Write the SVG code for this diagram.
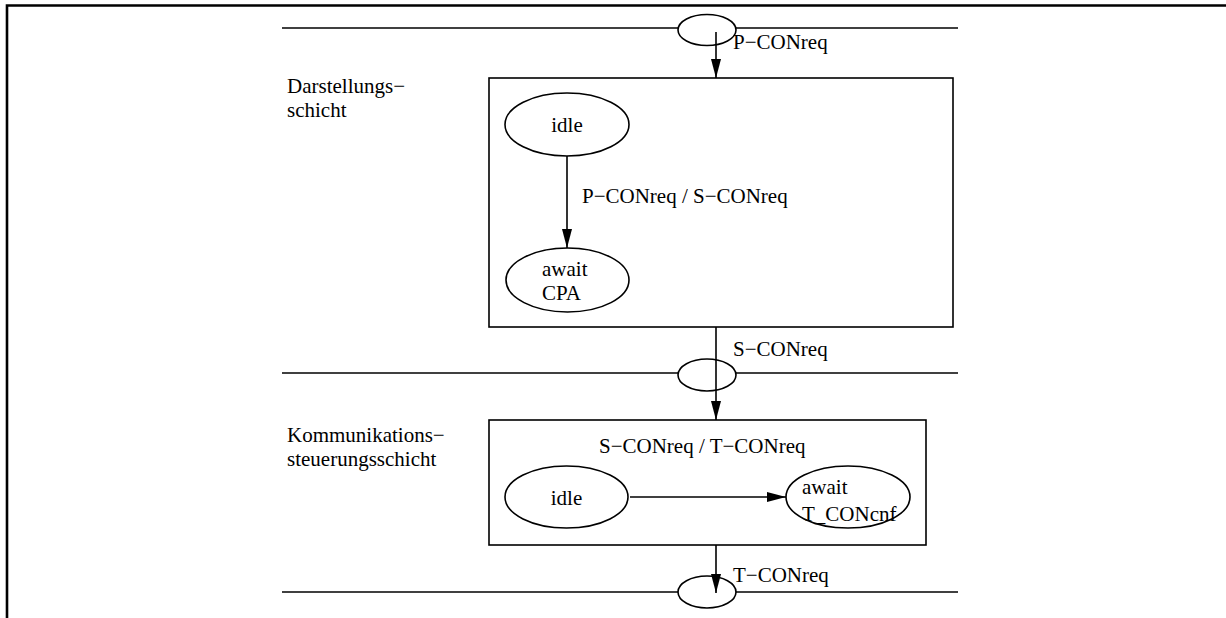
<svg xmlns="http://www.w3.org/2000/svg" width="1226" height="618" viewBox="0 0 1226 618">
  <style>
    .t { font-family: "Liberation Serif", "Times New Roman", "DejaVu Serif", serif; font-size: 21px; fill: #000; }
    .ln { stroke: #000; stroke-width: 1.6; fill: none; }
    .frame { stroke: #000; stroke-width: 2.6; fill: none; }
    .box { stroke: #000; stroke-width: 1.6; fill: #fff; }
    .st { stroke: #000; stroke-width: 1.6; fill: #fff; }
    .sap { stroke: #000; stroke-width: 1.6; fill: #fff; }
  </style>
  <defs>
    <marker id="ah" viewBox="0 0 19 10" refX="19" refY="5" markerWidth="19" markerHeight="10" markerUnits="userSpaceOnUse" orient="auto">
      <path d="M0,0 L19,5 L0,10 z" fill="#000"/>
    </marker>
  </defs>

  <rect width="1226" height="618" fill="#fff"/>

  <!-- page frame -->
  <path class="frame" d="M7,618 V5.5 H1226"/>

  <!-- layer boundaries with service access points -->
  <g id="layer-lines">
    <line class="ln" x1="282" y1="28" x2="958" y2="28"/>
    <line class="ln" x1="282" y1="373" x2="958" y2="373"/>
    <line class="ln" x1="282" y1="592" x2="958" y2="592"/>
  </g>
  <g id="sap-top"><ellipse class="sap" cx="707" cy="30" rx="29" ry="15.5"/></g>
  <g id="sap-mid"><ellipse class="sap" cx="707" cy="375" rx="29" ry="16"/></g>
  <g id="sap-bottom"><ellipse class="sap" cx="707" cy="592" rx="29" ry="16"/></g>

  <!-- layer names -->
  <g id="label-darstellung">
    <text class="t" x="287" y="93">Darstellungs−</text>
    <text class="t" x="287" y="117">schicht</text>
  </g>
  <g id="label-kommunikation">
    <text class="t" x="287" y="442">Kommunikations−</text>
    <text class="t" x="287" y="466">steuerungsschicht</text>
  </g>

  <!-- presentation layer state machine -->
  <g id="box-darstellung"><rect class="box" x="489" y="78" width="464" height="249"/></g>
  <g id="state-idle-1">
    <ellipse class="st" cx="567" cy="124.5" rx="62" ry="31.5"/>
    <text class="t" x="567" y="132" text-anchor="middle">idle</text>
  </g>
  <g id="state-await-cpa">
    <ellipse class="st" cx="567.5" cy="280" rx="61.5" ry="32"/>
    <text class="t" x="542" y="276">await</text>
    <text class="t" x="542" y="300">CPA</text>
  </g>

  <!-- session layer state machine -->
  <g id="box-kommunikation"><rect class="box" x="489" y="420" width="437" height="125"/></g>
  <g id="state-idle-2">
    <ellipse class="st" cx="566.5" cy="497" rx="61.5" ry="31"/>
    <text class="t" x="566.5" y="505" text-anchor="middle">idle</text>
  </g>
  <g id="state-await-tcon">
    <ellipse class="st" cx="848" cy="497" rx="62" ry="31"/>
    <text class="t" x="802" y="494">await</text>
    <text class="t" x="802" y="521">T_CONcnf</text>
  </g>

  <!-- connectors -->
  <g id="connectors">
    <line class="ln" x1="716" y1="32" x2="716" y2="78" marker-end="url(#ah)"/>
    <line class="ln" x1="716" y1="327" x2="716" y2="420" marker-end="url(#ah)"/>
    <line class="ln" x1="716" y1="545" x2="716" y2="593" marker-end="url(#ah)"/>
    <line class="ln" x1="567" y1="156" x2="567" y2="248" marker-end="url(#ah)"/>
    <line class="ln" x1="630" y1="497" x2="786" y2="497" marker-end="url(#ah)"/>
    <text class="t" x="733" y="49">P−CONreq</text>
    <text class="t" x="733" y="356">S−CONreq</text>
    <text class="t" x="733" y="582">T−CONreq</text>
    <text class="t" x="582" y="203">P−CONreq / S−CONreq</text>
    <text class="t" x="599" y="453">S−CONreq / T−CONreq</text>
  </g>
</svg>
